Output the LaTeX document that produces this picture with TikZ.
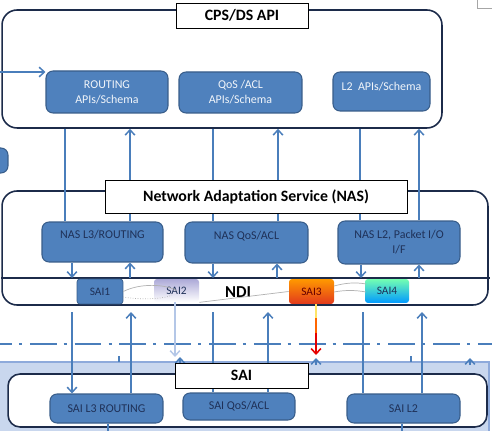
\documentclass[tikz,border=0pt]{standalone}
\usepackage{fontspec}
\setmainfont{Carlito}
\usetikzlibrary{arrows.meta}
\definecolor{boxblue}{HTML}{4F81BD}
\definecolor{boxedge}{HTML}{385D8A}
\definecolor{wireblue}{HTML}{4A7EBB}
\definecolor{navy}{HTML}{1F3158}
\definecolor{frame}{HTML}{1C2B4A}
\definecolor{saiband}{HTML}{C9D7EE}
\definecolor{saibandedge}{HTML}{8EAADB}
\definecolor{paleblue}{HTML}{B4C7E7}
\tikzset{cont/.style={draw=frame, line width=0.9pt, rounded corners=0.3cm, fill=white},
  titlebox/.style={draw=black, line width=0.5pt, fill=white, inner sep=0pt, font=\fontsize{9}{11}\selectfont\bfseries},
  apibox/.style={draw=boxedge, line width=0.6pt, fill=boxblue, rounded corners=0.14cm, align=center, inner sep=0pt, font=\fontsize{6.8}{8.5}\selectfont},
  toptext/.style={text=white!92!boxblue},
  lowtext/.style={text=navy},
  saibox/.style={rounded corners=0.06cm, inner sep=0pt, minimum height=0.48cm, minimum width=0.9cm, font=\fontsize{6.5}{8}\selectfont},
  wire/.style={draw=wireblue, line width=0.85pt},
  arr/.style={wire, -{Straight Barb[length=3pt,width=5.5pt]}},
  ndiwire/.style={draw=gray!60, line width=0.4pt},
  dividerline/.style={draw=wireblue, line width=1.7pt, dash pattern=on 15.3pt off 4pt on 1.7pt off 4.5pt}}

\begin{document}
\begin{tikzpicture}[x=0.02cm,y=-0.02cm]
   \useasboundingbox (0,0) rectangle (492,431);
   \clip (0,0) rectangle (492,431);

   \draw[gray!70, line width=0.5pt] (477,-5) rectangle (500,8);
   \node[apibox, minimum width=0.56cm, minimum height=0.5cm] (side) at (-6,160.5) {};

   \node[cont, minimum width=8.8cm, minimum height=2.36cm] (cps) at (222,69) {};
   \node[cont, minimum width=9.72cm, minimum height=2.28cm] (nas) at (245,248) {};
   \coordinate (ndiend) at (490,278);
   \draw[frame, line width=0.9pt] (nas.west |- ndiend) -- (ndiend);

   \fill[saiband] (-5,362) rectangle (489,440);
   \draw[saibandedge, line width=0.8pt] (-5,362) -- (489,362) -- (489,440);
   \node[cont, rounded corners=0.24cm, minimum width=9.58cm, minimum height=1.06cm] (saic) at (247.5,400.5) {};

   \coordinate (dl) at (-15,344);
   \coordinate (dr) at (500,344);
   \draw[dividerline] (dl) -- (dr);

   \node[apibox, toptext, minimum width=2.44cm, minimum height=0.84cm] (rapi) at (107,92) {ROUTING\\APIs/Schema};
   \node[apibox, toptext, minimum width=2.46cm, minimum height=0.82cm] (qapi) at (240.5,92.5) {QoS /ACL\\APIs/Schema};
   \node[apibox, toptext, minimum width=1.94cm, minimum height=0.78cm] (lapi) at (381.5,91.5) {L2~~APIs/Schema\\[-3pt]~};

   \node[apibox, lowtext, minimum width=2.42cm, minimum height=0.8cm] (nl3) at (102.5,242) {NAS L3/ROUTING\\~};
   \node[apibox, lowtext, minimum width=2.46cm, minimum height=0.82cm] (nqos) at (246.5,242.5) {NAS QoS/ACL\\~};
   \node[apibox, lowtext, minimum width=2.44cm, minimum height=0.86cm] (nl2) at (399,242.5) {NAS L2, Packet I/O\\I/F};

   \node[saibox, lowtext, draw=boxedge, fill=boxblue, minimum width=0.92cm, minimum height=0.5cm] (sai1) at (100,291.5) {SAI1};
   \node[saibox, lowtext, top color=paleblue!85!violet, bottom color=white, minimum height=0.46cm] (sai2) at (176.5,290.5) {SAI2};
   \node[font=\fontsize{9.5}{11}\selectfont\bfseries] (ndi) at (238,292) {NDI};
   \node[saibox, text=red!40!black, top color=orange!80!yellow, middle color=orange!60!red, bottom color=red!55!brown, minimum height=0.5cm] (sai3) at (311.5,291.5) {SAI3};
   \node[saibox, lowtext, top color=cyan!45!green!55!white, bottom color=cyan!60!blue, minimum width=0.88cm] (sai4) at (387,291) {SAI4};

   \draw[ndiwire] (sai1.east) .. controls (140,283) and (165,284) .. (sai2.center);
   \draw[ndiwire, densely dotted] (123,297) .. controls (140,300) and (165,299) .. (172,295);
   \draw[ndiwire] (sai2.south east) -- (sai3.west);
   \draw[ndiwire] (334,286) .. controls (345,283) and (355,282) .. (366,284);
   \draw[ndiwire] (334,292) .. controls (345,290) and (355,290) .. (366,292);

   \node[apibox, lowtext, minimum width=2.26cm, minimum height=0.58cm] (sl3) at (106.5,408.5) {SAI L3 ROUTING};
   \node[apibox, lowtext, minimum width=2.24cm, minimum height=0.54cm] (sqos) at (239,406.5) {SAI QoS/ACL};
   \node[apibox, lowtext, minimum width=2.26cm, minimum height=0.58cm] (sl2) at (403.5,408.5) {SAI L2};

   \coordinate (lin) at (-2,72);
   \draw[arr] (lin) -- (lin -| rapi.west);

   \draw[wire] (cps.south -| 65,0) -- (nl3.north -| 65,0);
   \draw[arr] (nl3.north -| 130,0) -- (cps.south -| 130,0);
   \draw[wire] (cps.south -| 213,0) -- (nqos.north -| 213,0);
   \draw[arr] (nqos.north -| 278,0) -- (cps.south -| 278,0);
   \draw[wire] (cps.south -| 360,0) -- (nl2.north -| 360,0);
   \draw[arr] (nl2.north -| 419,0) -- (cps.south -| 419,0);

   \draw[arr] (nl3.south -| 72,0) -- (ndiend -| 72,0);
   \draw[arr] (ndiend -| 130,0) -- (nl3.south -| 130,0);
   \draw[arr] (nqos.south -| 213,0) -- (ndiend -| 213,0);
   \draw[arr] (ndiend -| 277,0) -- (nqos.south -| 277,0);
   \draw[arr] (nl2.south -| 361,0) -- (ndiend -| 361,0);
   \draw[arr] (ndiend -| 419,0) -- (nl2.south -| 419,0);

   \coordinate (ndigap) at (0,312);
   \coordinate (bot) at (0,436);
   \draw[arr] (ndigap -| 72,0) -- (sl3.north -| 72,0);
   \draw[arr] (sl3.north -| 131,0) -- (ndigap -| 131,0);
   \draw[wire] (ndigap -| 213,0) -- (sqos.north -| 213,0);
   \draw[arr] (sqos.north -| 268,0) -- (ndigap -| 268,0);
   \draw[wire] (ndigap -| 363,0) -- (sl2.north -| 363,0);
   \draw[arr] (sl2.north -| 422,0) -- (ndigap -| 422,0);
   \draw[wire] (sl3.south -| 108,0) -- (bot -| 108,0);
   \draw[wire] (sl2.south -| 402,0) -- (bot -| 402,0);

   \coordinate (paletip) at (175,357);
   \draw[arr, draw=paleblue] (sai2.south -| paletip) -- (paletip);
   \coordinate (redtip) at (316,355);
   \coordinate (redhi) at (316,318);
   \coordinate (redmid) at (316,333);
   \draw[line width=0.9pt, draw=orange!35!yellow!60!white] (sai3.south -| redtip) -- (redhi);
   \draw[line width=0.9pt, draw=orange!80!red] (redhi) -- (redmid);
   \draw[line width=0.9pt, draw=red!90!black, -{Straight Barb[length=3pt,width=5.5pt]}] (redmid) -- (redtip);

   \draw[arr] (180,364) -- (180,357);
   \draw[arr] (316,365) -- (316,358);
   \draw[arr] (470,365) -- (470,358);
   \draw[wire] (119,356) -- (119,362);
   \draw[wire] (411,356) -- (411,362);

   \node[titlebox, minimum width=2.64cm, minimum height=0.5cm] (cpst) at (242,15.5) {CPS/DS API};
   \node[titlebox, minimum width=6.04cm, minimum height=0.66cm] (nast) at (256,196.5) {Network Adaptation Service (NAS)};
   \node[titlebox, minimum width=2.66cm, minimum height=0.5cm] (sait) at (241.5,375.5) {SAI};
\end{tikzpicture}
\end{document}
